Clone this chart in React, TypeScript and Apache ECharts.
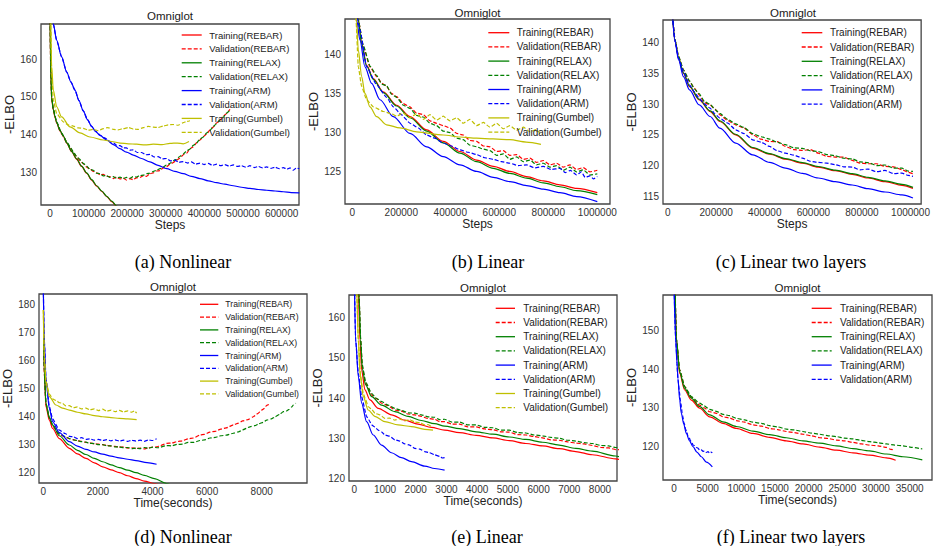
import React, { useEffect, useRef } from 'react';
import * as echarts from 'echarts';

type P = [number, number];

// ---------- (a) Nonlinear, Steps ----------
const aTrainREBAR: P[] = [[0,175],[1700,158],[4300,149.5],[8600,146.5],[13000,144.6],[17300,143.1],[26000,141.0],[35000,139.5],[43200,137.8],[56000,135.5],[69000,133.5],[82000,131.6],[95000,129.8],[108000,128.0],[121000,126.4],[134000,125.0],[147000,123.6],[160000,122.3],[173000,121.0],[186000,119.8]];
const aValREBAR: P[] = [[0,175],[1700,158],[4300,149.6],[8600,146.6],[17300,143.2],[30000,140.3],[43000,138.1],[52000,136.6],[60400,135.2],[68000,134.3],[76000,133.3],[86300,132.3],[95000,131.4],[104000,130.9],[112200,130.3],[121000,129.9],[129500,129.4],[138000,129.5],[146000,129.0],[155400,128.9],[164000,128.4],[172000,128.8],[181300,128.3],[190000,128.5],[198000,128.0],[207200,128.4],[215000,128.1],[224000,128.6],[233100,128.7],[242000,129.2],[250000,129.0],[259000,129.7],[268000,129.9],[276000,130.4],[284900,130.5],[293000,131.2],[302000,131.5],[310800,132.2],[319000,132.6],[327000,133.2],[336700,133.8],[345000,134.7],[354000,135.1],[362600,136.3],[371000,136.8],[380000,137.9],[388500,138.6],[397000,139.5],[406000,140.2],[414400,141.3],[423000,142.0],[431000,143.1],[440300,143.8],[449000,144.9],[457000,145.6],[466200,146.7]];
const aTrainRELAX: P[] = [[0,175],[1700,158.5],[4300,149.8],[8600,146.7],[13000,144.8],[17300,143.2],[26000,141.1],[35000,139.6],[43200,137.9],[56000,135.6],[69000,133.6],[82000,131.7],[95000,129.9],[108000,128.1],[121000,126.5],[134000,125.1],[147000,123.7],[160000,122.4],[173000,121.1],[186000,119.9]];
const aValRELAX: P[] = [[0,175],[1700,158.5],[4300,149.9],[8600,146.8],[17300,143.4],[30000,140.5],[43000,138.2],[52000,136.8],[60400,135.5],[68000,134.4],[76000,133.6],[86300,132.4],[95000,131.7],[104000,130.8],[112200,130.6],[121000,129.8],[129500,129.7],[138000,129.1],[146000,129.2],[155400,128.7],[164000,128.9],[172000,128.5],[181300,128.8],[190000,128.4],[198000,128.7],[207200,128.5],[215000,128.9],[224000,128.8],[233100,129.2],[242000,129.3],[250000,129.7],[259000,129.8],[268000,130.3],[276000,130.6],[284900,131.0],[293000,131.4],[302000,132.0],[310800,132.4],[319000,133.1],[327000,133.5],[336700,134.3],[345000,134.9],[354000,135.7],[362600,136.2],[371000,137.2],[380000,137.8],[388500,138.9],[397000,139.4],[406000,140.5],[414400,141.1],[423000,142.2],[431000,142.9],[440300,143.9],[449000,144.6],[457000,145.7],[466200,146.5]];
const aTrainARM: P[] = [[5000,174],[8600,169.3],[17300,165.0],[30200,160.6],[43200,156.6],[54000,154.0],[64700,151.8],[75000,149.0],[86300,146.3],[97000,144.0],[107900,142.2],[118000,140.9],[129500,139.8],[146800,138.6],[164000,137.4],[181300,136.3],[198000,135.4],[215800,134.6],[237000,133.7],[259000,132.8],[280000,131.9],[302200,131.0],[323000,130.3],[345300,129.7],[366000,129.0],[388500,128.4],[410000,127.8],[431700,127.3],[453000,126.9],[474800,126.5],[496000,126.1],[518000,125.8],[540000,125.5],[561100,125.3],[583000,125.1],[604300,124.9],[625000,124.7],[645700,124.6]];
const aValARM: P[] = [[5000,174],[8600,169.3],[17300,165.0],[30200,160.6],[43200,156.6],[54000,154.0],[64700,151.8],[75000,149.0],[86300,146.3],[97000,144.0],[107900,142.2],[118000,140.9],[129500,139.9],[138000,139.3],[146800,138.9],[156000,138.1],[165000,137.8],[173000,137.2],[181300,137.1],[190000,136.5],[198000,136.5],[207000,135.9],[215800,136.0],[226000,135.3],[237000,135.3],[248000,134.7],[259000,134.8],[270000,134.1],[280000,134.2],[291000,133.6],[302200,133.7],[312000,133.1],[323000,133.3],[334000,132.7],[345300,132.9],[356000,132.5],[366000,132.8],[377000,132.2],[388500,132.5],[399000,132.1],[410000,132.4],[421000,131.9],[431700,132.2],[442000,131.8],[453000,132.1],[464000,131.7],[474800,132.0],[485000,131.6],[496000,131.8],[507000,131.4],[518000,131.8],[529000,131.3],[540000,131.6],[551000,131.2],[561100,131.5],[572000,131.1],[583000,131.4],[594000,131.0],[604300,131.3],[614000,130.9],[622000,131.2],[630000,130.6],[638000,131.2],[645700,131.0]];
const aTrainGumbel: P[] = [[1700,172],[4300,158.0],[8600,151.8],[17300,147.4],[30200,144.7],[51800,142.1],[77700,140.5],[103600,139.4],[138100,138.6],[160000,138.2],[181300,137.8],[203000,137.6],[224500,137.5],[246000,137.3],[267600,137.5],[290000,137.4],[310800,137.7],[330000,137.8],[345000,137.6],[360000,138.2]];
const aValGumbel: P[] = [[1700,172],[4300,156.2],[8600,149.1],[17300,145.6],[34500,143.4],[47000,142.6],[60400,142.3],[73000,141.8],[86300,141.7],[99000,141.2],[112200,141.4],[125000,141.1],[138100,141.6],[150000,141.9],[164000,141.4],[176000,141.3],[189900,141.6],[203000,141.9],[215800,141.5],[229000,141.4],[241700,141.9],[255000,142.2],[267600,142.0],[280000,141.9],[293500,142.3],[306000,142.6],[319400,142.7],[332000,142.5],[345300,143.2],[354000,143.5],[362600,143.7]];

// ---------- (b) Linear, Steps ----------
const bTrainREBAR: P[] = [[15000,147],[24500,144.4],[38100,141.4],[58500,138.6],[85700,136.9],[126500,135.2],[180900,133.5],[235400,132.05],[303400,130.35],[371400,128.9],[439400,127.6],[507500,126.5],[575500,125.7],[643500,125.05],[711500,124.4],[779600,123.85],[847600,123.35],[915600,122.9],[1000000,122.35]];
const bValREBAR: P[] = [[15000,147],[24500,144.4],[44900,141.0],[72100,138.4],[99300,137.15],[120000,136.3],[140100,135.9],[160000,135.0],[180900,134.6],[208000,133.7],[235400,133.3],[262000,132.5],[289800,132.3],[317000,131.5],[344200,131.2],[371000,130.9],[398600,130.6],[426000,129.9],[453000,129.7],[480000,129.0],[507500,128.9],[535000,128.3],[561900,128.2],[589000,127.6],[616300,127.7],[643000,127.1],[670700,127.2],[698000,126.6],[725100,126.75],[752000,126.2],[779600,126.45],[807000,125.9],[834000,126.1],[861000,125.6],[888400,125.9],[915000,125.3],[942800,125.55],[970000,125.0],[1000000,125.2]];
const bTrainRELAX: P[] = [[15000,147],[24500,144.4],[38100,141.3],[58500,138.5],[85700,136.8],[126500,135.1],[180900,133.4],[235400,131.9],[303400,130.2],[371400,128.7],[439400,127.4],[507500,126.3],[575500,125.45],[643500,124.8],[711500,124.2],[779600,123.6],[847600,123.1],[915600,122.6],[1000000,122.1]];
const bValRELAX: P[] = [[15000,147],[24500,144.4],[44900,141.1],[72100,138.5],[99300,137.3],[120000,136.2],[140100,136.0],[160000,134.9],[180900,134.5],[208000,133.5],[235400,133.1],[262000,132.2],[289800,132.0],[317000,131.2],[344200,130.9],[371000,130.2],[398600,130.0],[426000,129.3],[453000,129.1],[480000,128.4],[507500,128.2],[535000,127.9],[561900,127.7],[589000,127.1],[616300,127.3],[643000,126.6],[670700,126.9],[698000,126.3],[725100,126.5],[752000,125.9],[779600,126.1],[807000,125.6],[834000,125.8],[861000,125.2],[888400,125.6],[915000,125.0],[942800,125.25],[970000,124.6],[1000000,124.75]];
const bTrainARM: P[] = [[10000,147],[17700,144.4],[31300,141.8],[51700,138.4],[78900,136.3],[112900,134.2],[167300,132.05],[235400,129.9],[303400,128.2],[371400,126.95],[439400,125.9],[507500,125.05],[575500,124.3],[643500,123.75],[711500,123.25],[779600,122.8],[847600,122.35],[915600,121.85],[1000000,121.2]];
const bValARM: P[] = [[10000,147],[17700,145.0],[31300,143.1],[58500,138.4],[99300,136.1],[140100,134.5],[167300,133.3],[200000,132.3],[235400,131.2],[269000,130.6],[303400,129.7],[337000,129.3],[371400,128.65],[405000,128.3],[439400,127.8],[473000,127.5],[507500,127.2],[541000,126.8],[575500,126.6],[609000,126.3],[643500,126.1],[677000,125.8],[711500,125.9],[745000,125.5],[779600,125.7],[813000,125.3],[847600,125.45],[870000,124.9],[890000,125.2],[915600,124.6],[935000,125.0],[950000,124.3],[970000,124.5],[985000,124.1],[1000000,124.4]];
const bTrainGumbel: P[] = [[12000,147],[17700,144.0],[24500,140.55],[38100,137.15],[51700,135.0],[72100,133.3],[99300,132.05],[140100,131.0],[194600,130.6],[262600,130.1],[371400,129.7],[440000,129.45],[507500,129.3],[575000,129.2],[643500,129.1],[710000,128.8],[770000,128.5]];
const bValGumbel: P[] = [[10000,147],[15000,144.4],[24500,138.4],[38100,135.9],[58500,134.2],[85700,133.3],[126500,132.7],[160000,132.4],[180900,132.1],[208000,132.5],[235400,131.9],[262000,132.4],[289800,131.7],[317000,132.3],[344200,131.6],[371000,132.1],[398600,131.5],[426000,131.9],[453000,131.2],[480000,131.7],[507500,130.9],[535000,131.3],[561900,130.7],[589000,131.2],[616300,130.5],[643000,130.9],[670700,130.3],[698000,130.7],[725100,130.1],[750000,130.4],[766000,129.9]];

// ---------- (c) Linear two layers, Steps ----------
const cTrainREBAR: P[] = [[20000,144.5],[30000,140.43],[45000,137.46],[65000,135.02],[90000,132.86],[130000,130.69],[175000,128.8],[215000,127.18],[280000,125.01],[350000,122.85],[420000,121.87],[485000,121.06],[555000,120.41],[620000,119.76],[690000,119.17],[760000,118.57],[825000,117.98],[895000,117.38],[965000,116.79],[1010000,116.3]];
const cValREBAR: P[] = [[20000,144.5],[30000,140.43],[45000,137.73],[65000,135.56],[90000,133.67],[110000,132.6],[130000,131.5],[152000,130.2],[175000,129.88],[195000,129.2],[215000,128.26],[248000,127.3],[280000,126.63],[315000,126.1],[350000,125.01],[385000,124.3],[420000,123.93],[452000,123.9],[485000,123.12],[520000,122.6],[555000,122.47],[588000,122.6],[620000,122.03],[655000,121.5],[690000,121.39],[725000,121.4],[760000,120.84],[792000,120.4],[825000,120.3],[860000,120.3],[895000,119.87],[930000,119.8],[965000,119.33],[990000,118.9],[1010000,118.68]];
const cTrainRELAX: P[] = [[20000,144.5],[30000,140.5],[45000,137.55],[65000,135.1],[90000,132.95],[130000,130.8],[175000,128.9],[215000,127.3],[280000,125.1],[350000,122.95],[420000,121.95],[485000,121.15],[555000,120.5],[620000,119.85],[690000,119.27],[760000,118.68],[825000,118.1],[895000,117.52],[965000,116.95],[1010000,116.46]];
const cValRELAX: P[] = [[20000,144.5],[30000,140.5],[45000,137.8],[65000,135.6],[90000,133.8],[110000,132.5],[130000,131.7],[152000,130.4],[175000,130.0],[195000,129.1],[215000,128.5],[248000,127.5],[280000,126.8],[315000,126.2],[350000,125.2],[385000,124.7],[420000,124.3],[452000,123.8],[485000,123.4],[520000,122.9],[555000,122.8],[588000,122.4],[620000,122.3],[655000,121.8],[690000,121.6],[725000,121.2],[760000,121.1],[792000,120.6],[825000,120.5],[860000,120.0],[895000,120.1],[930000,119.6],[965000,119.6],[990000,119.1],[1010000,119.06]];
const cTrainARM: P[] = [[20000,144.5],[30000,140.16],[45000,137.19],[65000,134.48],[90000,132.32],[130000,129.88],[175000,127.99],[215000,126.09],[280000,123.66],[350000,121.76],[420000,120.52],[485000,119.6],[555000,118.73],[620000,117.98],[690000,117.38],[760000,116.84],[825000,116.25],[895000,115.7],[965000,115.22],[1010000,114.73]];
const cValARM: P[] = [[20000,144.5],[30000,140.43],[45000,137.46],[65000,135.29],[90000,133.13],[110000,132.0],[130000,130.96],[152000,130.0],[175000,129.34],[195000,128.4],[215000,127.72],[248000,126.9],[280000,125.82],[315000,125.2],[350000,124.2],[385000,123.8],[420000,123.12],[452000,122.4],[485000,122.03],[520000,121.7],[555000,121.22],[588000,120.7],[620000,120.52],[655000,120.4],[690000,120.14],[725000,119.8],[760000,119.76],[792000,119.3],[825000,119.44],[860000,119.0],[895000,119.22],[930000,118.7],[965000,118.79],[990000,118.4],[1010000,118.25]];

// ---------- (d) Nonlinear, Time ----------
const dTrainREBAR: P[] = [[15,168],[37,155],[98,143.4],[220,138.6],[342,135.6],[586,132.0],[952,128.5],[1250,126.5],[1563,124.9],[1870,123.3],[2173,121.9],[2480,120.8],[2784,119.8],[3090,118.7],[3394,117.7],[3700,116.8],[4066,115.9],[4300,115.3]];
const dValREBAR: P[] = [[15,168],[37,155.5],[98,144],[220,139.2],[342,136.5],[586,133.5],[800,132.6],[952,132.0],[1100,131.6],[1250,131.2],[1400,131.0],[1563,130.6],[1700,130.5],[1870,130.1],[2020,130.0],[2173,129.8],[2330,129.6],[2480,129.3],[2630,129.2],[2784,128.9],[2940,129.0],[3090,128.6],[3240,128.7],[3394,128.4],[3550,128.6],[3700,128.3],[3850,128.7],[4000,128.9],[4150,129.0],[4300,129.5],[4518,130.3],[4700,130.4],[4900,130.9],[5100,131.2],[5300,131.9],[5500,132.2],[5739,133.3],[5900,133.5],[6100,134.3],[6300,134.6],[6500,135.4],[6700,135.8],[6960,136.9],[7150,137.5],[7300,138.3],[7500,138.8],[7692,139.8],[7850,140.9],[8000,142.2],[8100,142.8],[8181,143.9],[8260,144.2]];
const dTrainRELAX: P[] = [[15,168],[37,156],[98,144.5],[220,139.5],[342,136.8],[586,133.0],[952,129.7],[1250,127.8],[1563,126.3],[1870,124.9],[2173,123.7],[2480,122.6],[2784,121.6],[3090,120.7],[3394,119.8],[3700,118.8],[4066,117.7],[4518,115.9],[4700,115.3]];
const dValRELAX: P[] = [[15,168],[37,156],[98,144.6],[220,139.6],[342,137.0],[586,133.7],[800,132.7],[952,132.0],[1100,131.5],[1250,131.3],[1400,130.9],[1563,130.7],[1700,130.3],[1870,130.2],[2020,129.8],[2173,129.8],[2330,129.4],[2480,129.4],[2630,129.0],[2784,129.0],[2940,128.7],[3090,128.8],[3240,128.4],[3394,128.6],[3541,128.4],[3700,128.8],[3850,128.5],[4000,128.9],[4200,128.7],[4518,129.5],[4700,129.4],[4900,129.9],[5100,130.0],[5300,130.6],[5500,130.6],[5739,131.3],[5900,131.5],[6100,132.2],[6300,132.4],[6500,133.0],[6700,133.2],[6960,133.9],[7150,134.4],[7300,135.1],[7570,136.2],[7750,136.6],[7900,137.3],[8050,137.8],[8181,138.6],[8350,139.0],[8500,139.8],[8650,140.6],[8791,141.6],[8900,141.8],[9000,142.4],[9100,143.3],[9158,144.0],[9250,144.6]];
const dTrainARM: P[] = [[0,186],[37,167],[98,153],[220,142.8],[342,138.0],[586,134.1],[952,130.9],[1250,129.3],[1563,128.1],[1870,127.2],[2173,126.4],[2480,125.7],[2784,125.1],[3090,124.6],[3394,124.1],[3800,123.4],[4150,122.8]];
const dValARM: P[] = [[0,186],[37,167],[98,153.5],[220,143.5],[342,139.0],[586,135.0],[800,133.8],[952,132.8],[1100,132.6],[1250,132.0],[1400,132.3],[1563,131.7],[1700,131.9],[1870,131.4],[2020,131.7],[2173,131.3],[2330,131.6],[2480,131.2],[2630,131.5],[2784,131.1],[2940,131.4],[3090,131.0],[3240,131.4],[3394,131.1],[3550,131.4],[3700,131.0],[3850,131.5],[4000,131.3],[4150,131.9]];
const dTrainGumbel: P[] = [[0,178],[37,161],[98,151.7],[220,147.0],[464,144.0],[700,142.9],[952,142.2],[1250,141.4],[1563,140.8],[1870,140.2],[2173,139.8],[2480,139.5],[2784,139.2],[3090,139.0],[3419,138.8]];
const dValGumbel: P[] = [[0,178],[37,162],[98,152.5],[220,148.0],[340,146.2],[464,145.6],[600,144.8],[700,144.6],[820,143.7],[952,143.8],[1100,143.0],[1250,143.3],[1400,142.6],[1563,142.9],[1700,142.3],[1870,142.6],[2020,142.0],[2173,142.5],[2330,141.8],[2480,142.2],[2630,141.6],[2784,142.1],[2940,141.5],[3090,141.9],[3240,141.4],[3340,141.9],[3419,141.1]];

// ---------- (e) Linear, Time ----------
const eTrainREBAR: P[] = [[100,172],[130,167],[184,154.5],[238,147.0],[346,142.1],[508,139.6],[778,137.5],[1211,135.9],[1643,134.6],[2076,133.6],[2508,132.8],[2940,132.1],[3427,131.5],[3967,130.8],[4508,130.2],[5048,129.5],[5589,128.8],[6129,128.2],[6670,127.5],[7210,126.8],[7751,126.0],[8508,125.0],[8700,124.7]];
const eValREBAR: P[] = [[110,172],[150,166],[205,154.5],[259,147.9],[368,143.7],[562,140.8],[720,139.9],[886,138.8],[1100,138.2],[1319,137.1],[1530,136.8],[1751,136.1],[1970,135.9],[2184,135.5],[2400,135.0],[2616,134.8],[2780,134.2],[2940,134.2],[3180,133.6],[3427,133.6],[3700,132.9],[3967,132.9],[4240,132.4],[4508,132.2],[4780,131.7],[5048,131.6],[5320,131.0],[5589,130.9],[5860,130.5],[6129,130.2],[6400,129.7],[6670,129.6],[6940,129.2],[7210,128.9],[7480,128.7],[7751,128.3],[8030,127.8],[8280,127.7],[8508,127.3],[8700,127.2]];
const eTrainRELAX: P[] = [[110,172],[150,166],[205,154.5],[259,147.4],[368,143.3],[562,140.4],[886,138.3],[1319,136.7],[1751,135.5],[2184,134.5],[2616,133.7],[2940,133.1],[3427,132.5],[3967,131.7],[4508,131.1],[5048,130.4],[5589,129.8],[6129,129.1],[6670,128.4],[7210,127.6],[7751,126.9],[8508,125.7],[8700,125.4]];
const eValRELAX: P[] = [[110,172],[150,166],[205,154.9],[259,148.3],[368,144.1],[562,141.2],[720,140.0],[886,139.2],[1100,138.3],[1319,137.5],[1530,137.0],[1751,136.4],[1970,136.3],[2184,135.9],[2400,135.4],[2616,135.3],[2780,134.7],[2940,134.8],[3180,134.1],[3427,134.1],[3700,133.4],[3967,133.4],[4240,132.8],[4508,132.7],[4780,132.1],[5048,132.1],[5320,131.5],[5589,131.4],[5860,130.9],[6129,130.7],[6400,130.3],[6670,130.1],[6940,129.6],[7210,129.4],[7480,129.0],[7751,128.8],[8030,128.3],[8280,128.2],[8508,127.8],[8700,127.7]];
const eTrainARM: P[] = [[0,170],[43,154.5],[130,145.4],[238,138.8],[400,134.2],[616,130.9],[886,128.4],[1211,126.5],[1535,125.3],[1860,124.3],[2292,123.2],[2616,122.6],[2940,122.2]];
const eValARM: P[] = [[0,170],[43,154.5],[130,146.2],[238,140.4],[400,135.5],[480,134.6],[562,133.4],[670,132.9],[778,132.1],[886,131.7],[995,130.9],[1150,130.6],[1319,129.7],[1480,129.4],[1643,128.7],[1800,128.4],[1968,127.6],[2130,127.4],[2292,126.8],[2450,126.5],[2616,126.0],[2780,125.6],[2870,125.2],[2940,125.3]];
const eTrainGumbel: P[] = [[50,172],[76,167],[130,154.5],[184,146.2],[292,140.4],[454,137.1],[670,135.5],[995,134.2],[1427,133.4],[1860,133.0],[2292,132.3],[2562,132.1]];
const eValGumbel: P[] = [[50,172],[76,167],[130,154.5],[205,145.4],[292,141.2],[370,139.6],[454,137.9],[560,137.3],[670,136.3],[830,135.9],[995,135.0],[1150,135.1],[1319,134.6],[1480,134.9],[1643,134.4],[1800,134.7],[1968,134.1],[2130,134.0],[2292,133.4],[2400,133.5],[2508,133.0]];

// ---------- (f) Linear two layers, Time ----------
const fTrainREBAR: P[] = [[149,162],[347,147.5],[842,138.9],[1584,134.6],[2574,132.0],[3812,129.9],[5297,127.7],[7277,126.0],[9257,124.7],[11732,123.4],[14207,122.4],[16682,121.5],[19157,120.7],[21632,119.9],[24107,119.1],[26582,118.4],[29057,117.8],[31532,117.1],[32918,116.5]];
const fValREBAR: P[] = [[149,162],[347,147.9],[842,139.8],[1584,135.5],[2574,132.7],[3812,130.7],[4500,130.0],[5297,129.0],[6300,128.6],[7277,127.7],[8250,127.4],[9257,126.7],[10500,126.3],[11732,125.6],[13000,125.3],[14207,124.7],[15400,124.4],[16682,123.9],[17900,123.6],[19157,123.2],[20400,122.8],[21632,122.3],[22900,122.1],[24107,121.7],[25300,121.5],[26582,121.1],[27800,120.7],[29057,120.4],[30300,120.2],[31532,119.8],[32200,119.3],[32769,119.1]];
const fTrainRELAX: P[] = [[149,162],[347,147.9],[842,139.3],[1584,135.0],[2574,132.5],[3812,130.3],[5297,128.2],[7277,126.4],[9257,125.2],[11732,124.0],[14207,123.1],[16682,122.3],[19157,121.5],[21632,120.9],[24107,120.2],[26582,119.5],[29057,118.9],[31532,118.1],[34007,117.4],[36878,116.6]];
const fValRELAX: P[] = [[149,162],[347,147.9],[842,139.8],[1584,135.5],[2574,132.9],[3812,131.2],[4500,130.5],[5297,129.6],[6300,129.1],[7277,128.3],[8250,128.0],[9257,127.3],[10500,126.9],[11732,126.3],[13000,126.0],[14207,125.4],[15400,125.1],[16682,124.5],[17900,124.3],[19157,123.9],[20400,123.5],[21632,123.2],[22900,122.8],[24107,122.6],[25300,122.2],[26582,122.0],[27800,121.6],[29057,121.3],[30300,121.0],[31532,120.7],[32800,120.4],[34007,120.2],[35400,119.8],[36878,119.4]];
const fTrainARM: P[] = [[0,162],[248,147.5],[446,141.5],[594,137.5],[842,132.0],[1089,128.6],[1450,125.8],[1832,123.4],[2300,121.5],[2822,120.0],[3400,118.6],[4059,117.4],[4800,116.0],[5693,114.8]];
const fValARM: P[] = [[0,162],[248,147.5],[594,137.2],[800,134.2],[941,132.0],[1100,130.4],[1200,128.6],[1320,127.9],[1436,126.3],[1560,125.8],[1700,124.6],[1880,123.9],[2079,122.6],[2250,122.3],[2450,121.5],[2650,121.1],[2822,120.4],[3050,120.3],[3300,119.8],[3550,119.6],[3812,119.1],[4050,119.2],[4300,118.8],[4550,118.9],[4802,118.5],[5050,118.7],[5300,118.3],[5500,118.6],[5693,118.4]];

// ---------- names & ticks ----------
const seriesNames8 = ['Training(REBAR)','Validation(REBAR)','Training(RELAX)','Validation(RELAX)','Training(ARM)','Validation(ARM)','Training(Gumbel)','Validation(Gumbel)'];
const seriesNames6 = seriesNames8.slice(0, 6);

const xTicksA = [0,100000,200000,300000,400000,500000,600000];
const xTicksB = [0,200000,400000,600000,800000,1000000];
const xTicksC = [0,200000,400000,600000,800000,1000000];
const xTicksD = [0,2000,4000,6000,8000];
const xTicksE = [0,1000,2000,3000,4000,5000,6000,7000,8000];
const xTicksF = [0,5000,10000,15000,20000,25000,30000,35000];
const yTicksA = [130,140,150,160];
const yTicksB = [125,130,135,140];
const yTicksC = [115,120,125,130,135,140];
const yTicksD = [120,130,140,150,160,170,180];
const yTicksE = [120,130,140,150,160];
const yTicksF = [120,130,140,150];

const METHOD_COLOR: Record<string, string> = { REBAR: '#ff0000', RELAX: '#008000', ARM: '#0000ff', Gumbel: '#bfbf00' };
const SANS = '"Liberation Sans", Arial, Helvetica, sans-serif';
const SERIF = '"Liberation Serif", "Times New Roman", serif';

function styleFor(name: string) {
  const m = name.slice(name.indexOf('(') + 1, name.indexOf(')'));
  return { color: METHOD_COLOR[m], dashed: name.startsWith('Validation') };
}

const panels = [
  { grid: { left: 41, top: 24, width: 258, height: 181 }, x: [-23300, 645000], y: [121.4, 169.3], xTicks: xTicksA, yTicks: yTicksA, xName: 'Steps', caption: '(a) Nonlinear', capX: 183, capY: 262, titleY: 16,
    names: seriesNames8, data: [aTrainREBAR, aValREBAR, aTrainRELAX, aValRELAX, aTrainARM, aValARM, aTrainGumbel, aValGumbel],
    leg: { x1: 181.7, x2: 201.7, tx: 209.3, y0: 35, dy: 13.9, fs: 9.5 } },
  { grid: { left: 345, top: 19, width: 265, height: 185 }, x: [-29800, 1051800], y: [120.9, 144.5], xTicks: xTicksB, yTicks: yTicksB, xName: 'Steps', caption: '(b) Linear', capX: 488, capY: 262, titleY: 12.5,
    names: seriesNames8, data: [bTrainREBAR, bValREBAR, bTrainRELAX, bValRELAX, bTrainARM, bValARM, bTrainGumbel, bValGumbel],
    leg: { x1: 488.3, x2: 509.3, tx: 516.7, y0: 32.7, dy: 14.2, fs: 10 } },
  { grid: { left: 663, top: 20, width: 260, height: 184 }, x: [-19200, 1043700], y: [113.75, 143.7], xTicks: xTicksC, yTicks: yTicksC, xName: 'Steps', caption: '(c) Linear two layers', capX: 791, capY: 262, titleY: 12.5,
    names: seriesNames6, data: [cTrainREBAR, cValREBAR, cTrainRELAX, cValRELAX, cTrainARM, cValARM],
    leg: { x1: 801.7, x2: 822.3, tx: 830, y0: 32.7, dy: 14.3, fs: 10 } },
  { grid: { left: 39, top: 294, width: 268, height: 189 }, x: [-158, 9659], y: [116.1, 183.7], xTicks: xTicksD, yTicks: yTicksD, xName: 'Time(seconds)', caption: '(d) Nonlinear', capX: 183, capY: 537, titleY: 286.7,
    names: seriesNames8, data: [dTrainREBAR, dValREBAR, dTrainRELAX, dValRELAX, dTrainARM, dValARM, dTrainGumbel, dValGumbel],
    leg: { x1: 200, x2: 218.3, tx: 225.3, y0: 304.3, dy: 12.8, fs: 8.7 } },
  { grid: { left: 349, top: 295, width: 268, height: 186 }, x: [-173, 8554], y: [119.5, 165.6], xTicks: xTicksE, yTicks: yTicksE, xName: 'Time(seconds)', caption: '(e) Linear', capX: 487, capY: 537, titleY: 288.3,
    names: seriesNames8, data: [eTrainREBAR, eValREBAR, eTrainRELAX, eValRELAX, eTrainARM, eValARM, eTrainGumbel, eValGumbel],
    leg: { x1: 495.7, x2: 515, tx: 523.3, y0: 308.3, dy: 14.2, fs: 10 } },
  { grid: { left: 663, top: 295, width: 269, height: 185 }, x: [-1634, 38317], y: [111.4, 159.1], xTicks: xTicksF, yTicks: yTicksF, xName: 'Time(seconds)', caption: '(f) Linear two layers', capX: 791, capY: 537, titleY: 288.3,
    names: seriesNames6, data: [fTrainREBAR, fValREBAR, fTrainRELAX, fValRELAX, fTrainARM, fValARM],
    leg: { x1: 811.7, x2: 831.7, tx: 840, y0: 308.3, dy: 14.2, fs: 10 } },
];

export default function App() {
  const ref = useRef<HTMLDivElement>(null);
  useEffect(() => {
    document.body.style.margin = '0';
    const chart = echarts.init(ref.current!, null, { renderer: 'svg' });
    const grid: any[] = [];
    const xAxis: any[] = [];
    const yAxis: any[] = [];
    const series: any[] = [];
    const graphic: any[] = [];
    panels.forEach((p, i) => {
      grid.push({ ...p.grid, show: true, borderColor: '#444', borderWidth: 1.3, backgroundColor: 'transparent' });
      xAxis.push({
        type: 'value', gridIndex: i, min: p.x[0], max: p.x[1],
        axisLine: { show: false }, axisTick: { show: false }, splitLine: { show: false },
        axisLabel: { customValues: p.xTicks, formatter: (v: number) => String(v), fontSize: 10, color: '#333', margin: 3, fontFamily: SANS },
        name: p.xName, nameLocation: 'middle', nameGap: 12,
        nameTextStyle: { fontSize: 12, color: '#222', fontFamily: SANS },
      });
      yAxis.push({
        type: 'value', gridIndex: i, min: p.y[0], max: p.y[1],
        axisLine: { show: false }, axisTick: { show: false }, splitLine: { show: false },
        axisLabel: { customValues: p.yTicks, formatter: (v: number) => String(v), fontSize: 10, color: '#333', margin: 4, fontFamily: SANS },
        name: '-ELBO', nameLocation: 'middle', nameGap: 21, nameRotate: 90,
        nameTextStyle: { fontSize: 13, color: '#222', fontFamily: SANS },
      });
      p.names.forEach((name, j) => {
        const st = styleFor(name);
        series.push({
          type: 'line', name, xAxisIndex: i, yAxisIndex: i, data: p.data[j],
          symbol: 'none', showSymbol: false, clip: true, silent: true,
          smooth: st.dashed ? 0.15 : 0.3, smoothMonotone: 'x',
          lineStyle: { color: st.color, width: 1.2, type: st.dashed ? [4, 2] : 'solid' },
          z: 2 + j * 0.01,
        });
        const ly = p.leg.y0 + j * p.leg.dy;
        graphic.push({
          type: 'line', z: 100,
          shape: { x1: p.leg.x1, y1: ly, x2: p.leg.x2, y2: ly },
          style: { stroke: st.color, lineWidth: 1.3, lineDash: st.dashed ? [4, 2] : null },
        });
        graphic.push({
          type: 'text', z: 100, x: p.leg.tx, y: ly,
          style: { text: name, fontSize: p.leg.fs, fontFamily: SANS, fill: '#222', align: 'left', verticalAlign: 'middle' },
        });
      });
      graphic.push({
        type: 'text', z: 100, x: p.grid.left + p.grid.width / 2, y: p.titleY,
        style: { text: 'Omniglot', fontSize: 11.5, fontFamily: SANS, fill: '#1a1a1a', align: 'center', verticalAlign: 'middle' },
      });
      graphic.push({
        type: 'text', z: 100, x: p.capX, y: p.capY,
        style: { text: p.caption, fontSize: 18, fontFamily: SERIF, fill: '#000', align: 'center', verticalAlign: 'middle' },
      });
    });
    chart.setOption({
      animation: false,
      backgroundColor: '#ffffff',
      grid, xAxis, yAxis, series, graphic,
    });
    return () => chart.dispose();
  }, []);
  return <div ref={ref} style={{ position: 'absolute', left: 0, top: 0, width: 933, height: 546 }} />;
}
